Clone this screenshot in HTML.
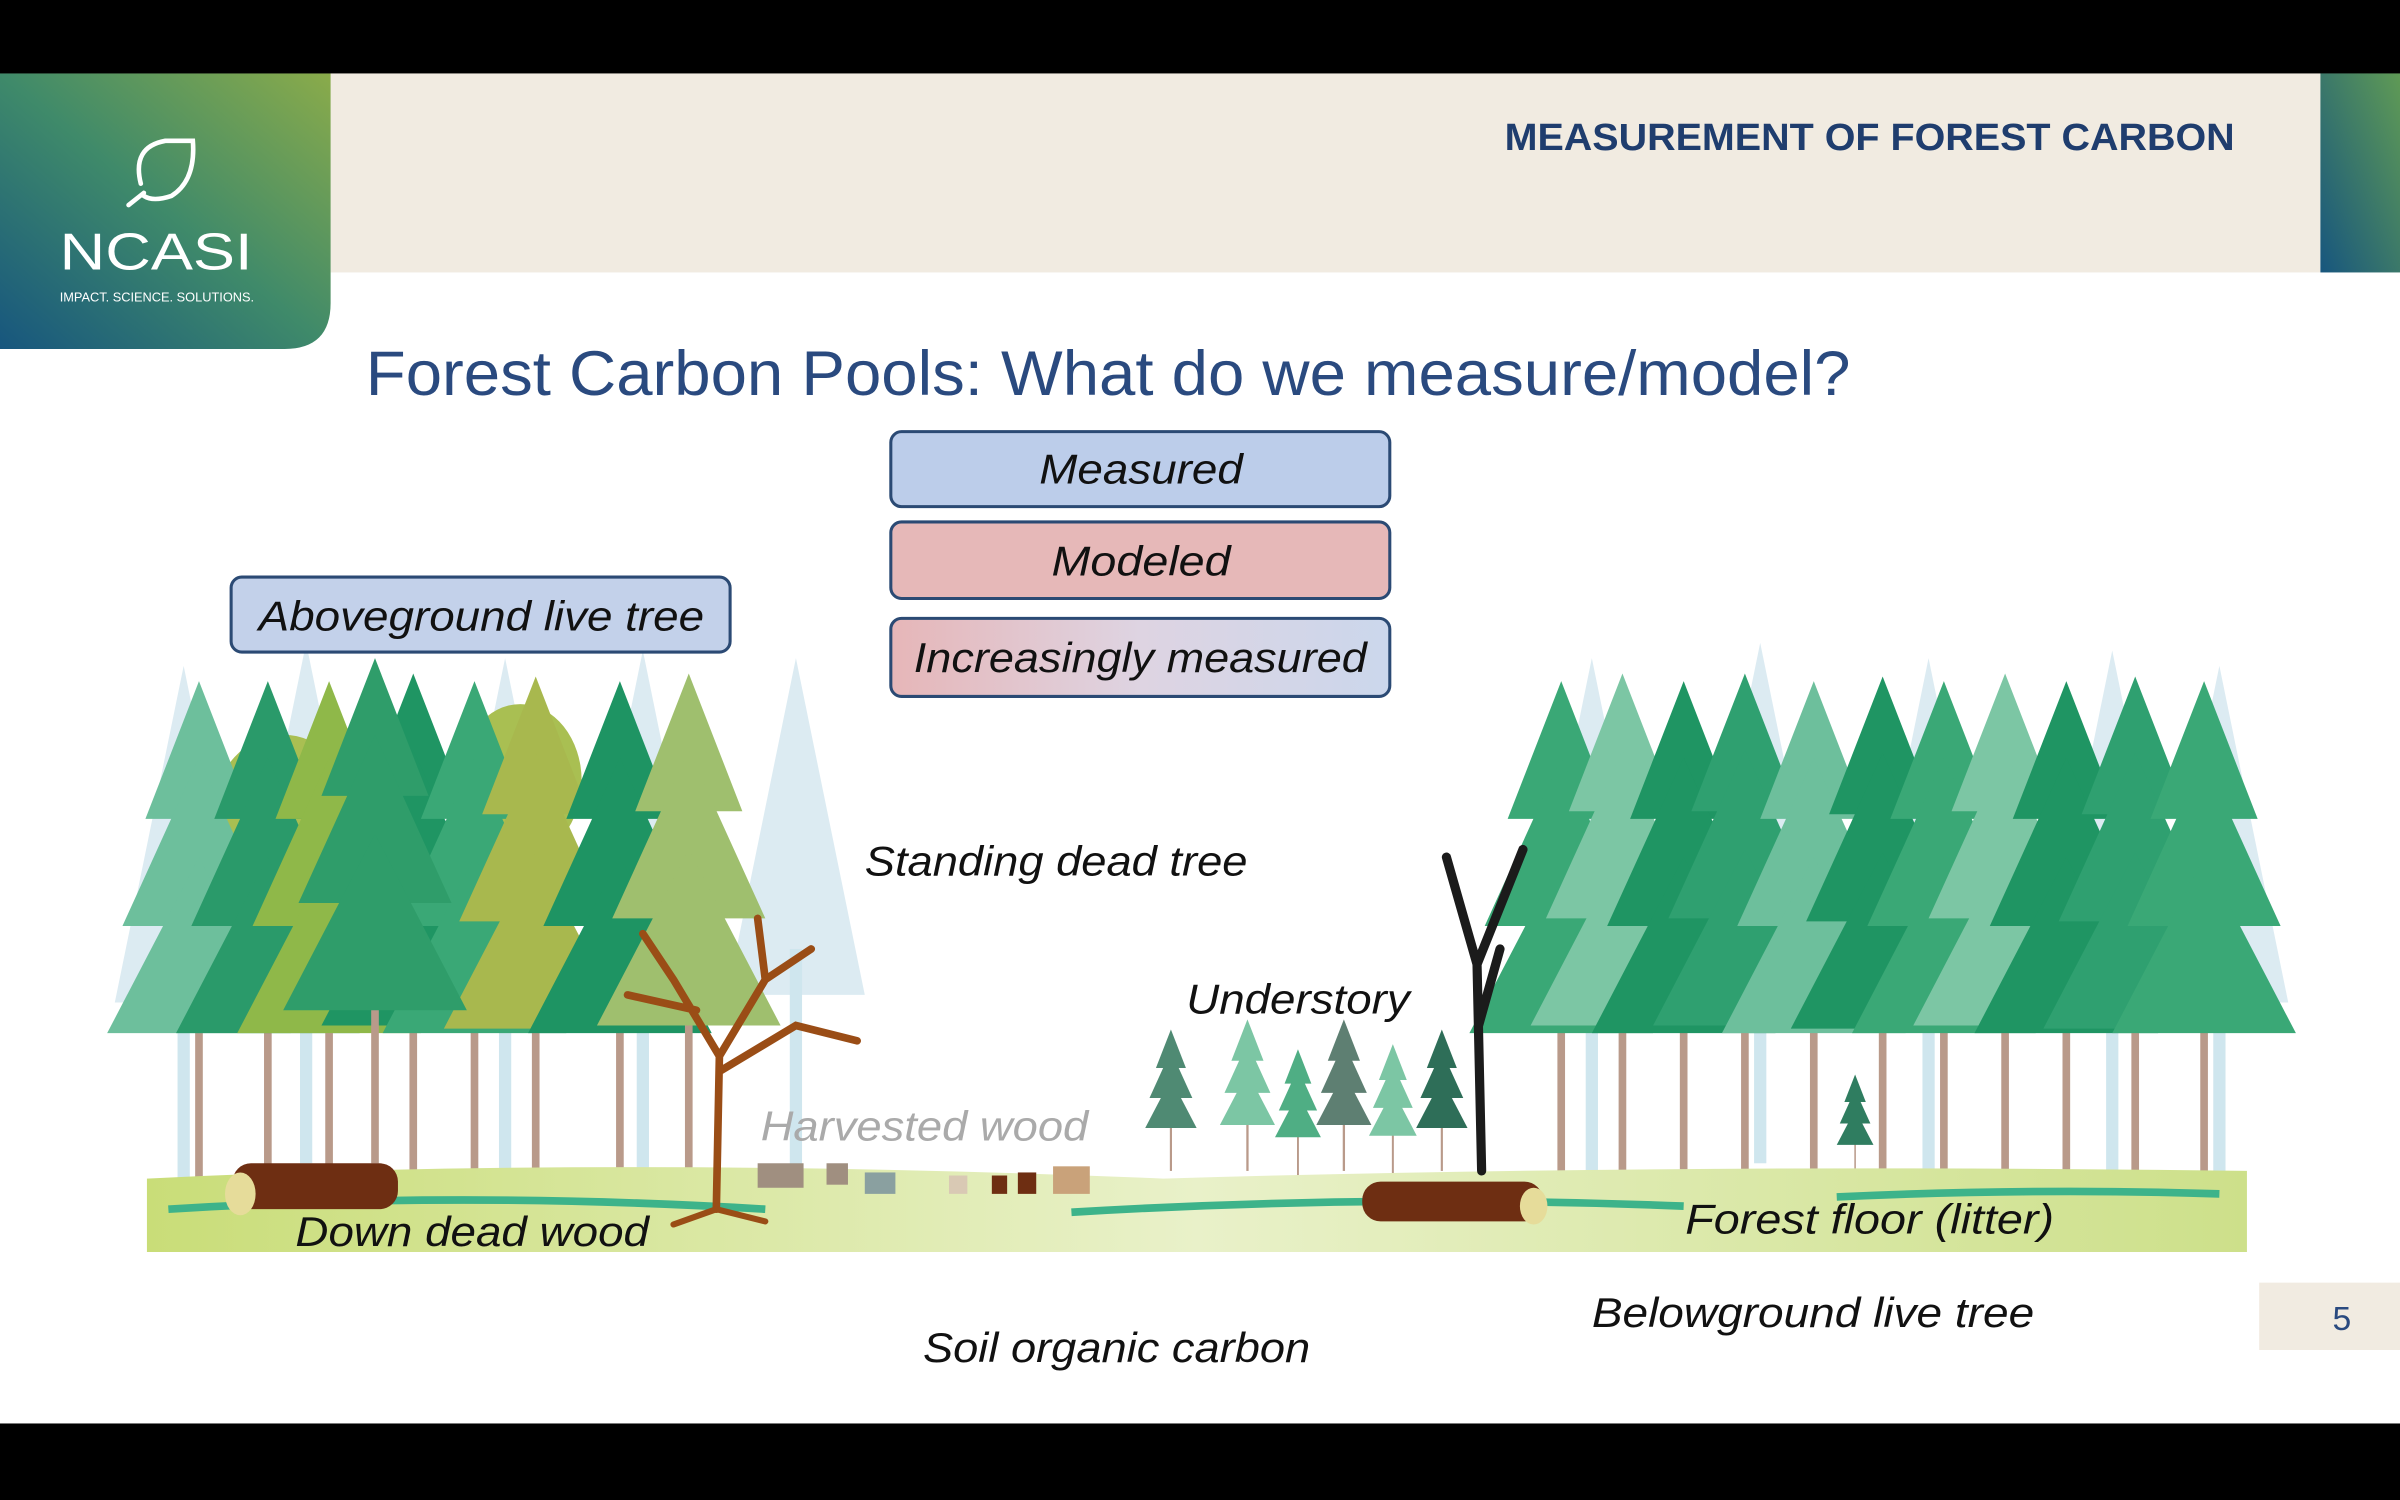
<!DOCTYPE html>
<html><head><meta charset="utf-8"><style>
html,body{margin:0;padding:0;background:#fff}
svg{display:block}
</style></head><body>
<svg width="2400" height="1500" viewBox="0 0 1568 980" preserveAspectRatio="none" xmlns="http://www.w3.org/2000/svg" font-family="Liberation Sans, sans-serif">
<defs>
<linearGradient id="lg" x1="0" y1="1" x2="1" y2="0">
<stop offset="0" stop-color="#17567e"/><stop offset="0.5" stop-color="#3f8a6a"/><stop offset="1" stop-color="#8aab4a"/></linearGradient>
<linearGradient id="rg" x1="0" y1="1" x2="1" y2="0">
<stop offset="0" stop-color="#17567e"/><stop offset="1" stop-color="#5f9a55"/></linearGradient>
<linearGradient id="inc" x1="0" y1="0" x2="1" y2="0">
<stop offset="0" stop-color="#e6b6b8"/><stop offset="0.5" stop-color="#ded4e2"/><stop offset="1" stop-color="#cbd7ec"/></linearGradient>
<linearGradient id="gr" x1="0" y1="0" x2="1" y2="0">
<stop offset="0" stop-color="#c9dd78"/><stop offset="0.5" stop-color="#e9f1c9"/><stop offset="1" stop-color="#cde08a"/></linearGradient>
<symbol id="pine" overflow="visible">
<rect x="-2.5" y="-300" width="5" height="300" fill="#b99a8a"/>
<polygon points="0,-330 -35,-240 35,-240"/>
<polygon points="0,-280 -50,-170 50,-170"/>
<polygon points="0,-215 -60,-100 60,-100"/>
</symbol>
<symbol id="bg" overflow="visible">
<polygon points="0,-340 -45,-120 45,-120" fill="#dcebf2"/>
<rect x="-4" y="-150" width="8" height="150" fill="#cfe6ee"/>
</symbol>
</defs>
<rect width="1568" height="980" fill="#fff"/>
<rect x="0" y="0" width="1568" height="48" fill="#000"/>
<rect x="0" y="930" width="1568" height="50" fill="#000"/>
<rect x="216" y="48" width="1300" height="130" fill="#f1ebe1"/>
<rect x="1516" y="48" width="52" height="130" fill="url(#rg)"/>
<path d="M0,48 H216 V198 Q216,228 186,228 H0 Z" fill="url(#lg)"/>
<path d="M92,120 Q86,96 108,92 L126,92 Q128,118 112,128 Q100,132 94,128 M94,126 L84,134" fill="none" stroke="#fff" stroke-width="3" stroke-linecap="round"/>
<text x="39" y="176" fill="#fff" font-size="34" textLength="126" lengthAdjust="spacingAndGlyphs">NCASI</text>
<text x="39" y="197" fill="#fff" font-size="8.5" textLength="127" lengthAdjust="spacingAndGlyphs">IMPACT. SCIENCE. SOLUTIONS.</text>
<text x="983" y="98" fill="#1f3d6e" font-size="25" font-weight="bold" textLength="477" lengthAdjust="spacingAndGlyphs">MEASUREMENT OF FOREST CARBON</text>
<text x="239" y="258" fill="#2a4a7f" font-size="41" textLength="970" lengthAdjust="spacingAndGlyphs">Forest Carbon Pools: What do we measure/model?</text>

<rect x="96" y="460" width="1372" height="358" fill="#fff"/>
<g>
<use href="#bg" x="120" y="775"/><use href="#bg" x="200" y="760"/><use href="#bg" x="330" y="770"/><use href="#bg" x="420" y="765"/><use href="#bg" x="520" y="770"/>
<use href="#bg" x="1040" y="770"/><use href="#bg" x="1150" y="760"/><use href="#bg" x="1260" y="770"/><use href="#bg" x="1380" y="765"/><use href="#bg" x="1450" y="775"/>
</g>
<g fill="#a9bf52"><ellipse cx="185" cy="530" rx="45" ry="50"/><ellipse cx="340" cy="510" rx="40" ry="50"/><ellipse cx="230" cy="600" rx="40" ry="45"/></g>
<g fill="#2f9d6a"><use href="#pine" x="130" y="775" fill="#6dbf9c"/><use href="#pine" x="175" y="775" fill="#2a9a6a"/><use href="#pine" x="215" y="775" fill="#8fb849"/><use href="#pine" x="270" y="770" fill="#1f9563"/><use href="#pine" x="310" y="775" fill="#3aa876"/><use href="#pine" x="350" y="772" fill="#a8b84e"/><use href="#pine" x="405" y="775" fill="#1e9463"/><use href="#pine" x="450" y="770" fill="#9fbf6e"/><use href="#pine" x="245" y="760" fill="#2f9d6a"/></g>
<g fill="#2f9d6a"><use href="#pine" x="1020" y="775" fill="#3aa876"/><use href="#pine" x="1060" y="770" fill="#7cc6a4"/><use href="#pine" x="1100" y="775" fill="#1f9563"/><use href="#pine" x="1140" y="770" fill="#2fa070"/><use href="#pine" x="1185" y="775" fill="#6dbf9c"/><use href="#pine" x="1230" y="772" fill="#1f9563"/><use href="#pine" x="1270" y="775" fill="#3aa876"/><use href="#pine" x="1310" y="770" fill="#7cc6a4"/><use href="#pine" x="1350" y="775" fill="#1f9563"/><use href="#pine" x="1395" y="772" fill="#2fa070"/><use href="#pine" x="1440" y="775" fill="#3aa876"/></g>
<g fill="#3b7a68"><use href="#pine" transform="translate(765 765) scale(0.28)" fill="#4f8a73"/><use href="#pine" transform="translate(815 765) scale(0.3)" fill="#7cc6a4"/><use href="#pine" transform="translate(848 768) scale(0.25)" fill="#4fae84"/><use href="#pine" transform="translate(878 765) scale(0.3)" fill="#5e7f72"/><use href="#pine" transform="translate(910 768) scale(0.26)" fill="#7cc6a4"/><use href="#pine" transform="translate(942 765) scale(0.28)" fill="#2e6e58"/><use href="#pine" transform="translate(1212 768) scale(0.2)" fill="#2f7d60"/></g>
<path d="M96,770 Q400,755 760,770 Q1100,760 1468,765 V818 H96 Z" fill="url(#gr)"/>
<path d="M110,790 Q300,778 500,790 M700,792 Q900,780 1100,788 M1200,782 Q1330,776 1450,780" stroke="#3db38a" stroke-width="5" fill="none"/>
<g stroke="#9a4d16" fill="none" stroke-linecap="round">
<path d="M468,790 L470,690 L440,640 M470,690 L500,640 L495,600 M470,700 L520,670 L560,680 M455,660 L410,650 M500,640 L530,620 M440,640 L420,610" stroke-width="5"/>
<path d="M468,790 L440,800 M468,790 L500,798" stroke-width="4"/>
</g>
<g stroke="#1b1b1b" fill="none" stroke-linecap="round"><path d="M968,765 L965,630 L945,560 M965,630 L985,580 L995,555 M966,670 L980,620" stroke-width="6"/></g>
<rect x="152" y="760" width="108" height="30" rx="12" fill="#6e2e12"/><ellipse cx="157" cy="780" rx="10" ry="14" fill="#e6dc9a"/>
<rect x="890" y="772" width="118" height="26" rx="12" fill="#6e2e12"/><ellipse cx="1002" cy="788" rx="9" ry="12" fill="#e6dc9a"/>
<g fill="#a08f80"><rect x="495" y="760" width="30" height="16"/><rect x="540" y="760" width="14" height="14"/><rect x="565" y="766" width="20" height="14" fill="#8aa0a0"/><rect x="620" y="768" width="12" height="12" fill="#d9c9b4"/><rect x="648" y="768" width="10" height="12" fill="#6e2e12"/><rect x="665" y="766" width="12" height="14" fill="#6e2e12"/><rect x="688" y="762" width="24" height="18" fill="#c9a27a"/></g>

<g font-style="italic" font-size="27" fill="#111" lengthAdjust="spacingAndGlyphs">
<rect x="151" y="377" width="326" height="49" rx="7" fill="#c3d1ea" stroke="#2b4a74" stroke-width="2"/>
<text x="169" y="412" textLength="291" lengthAdjust="spacingAndGlyphs">Aboveground live tree</text>
<rect x="582" y="282" width="326" height="49" rx="7" fill="#bccdea" stroke="#2b4a74" stroke-width="2"/>
<text x="679" y="316" textLength="133" lengthAdjust="spacingAndGlyphs">Measured</text>
<rect x="582" y="341" width="326" height="50" rx="7" fill="#e6b8b8" stroke="#2b4a74" stroke-width="2"/>
<text x="687" y="376" textLength="117" lengthAdjust="spacingAndGlyphs">Modeled</text>
<rect x="582" y="404" width="326" height="51" rx="7" fill="url(#inc)" stroke="#2b4a74" stroke-width="2"/>
<text x="597" y="439" textLength="296" lengthAdjust="spacingAndGlyphs">Increasingly measured</text>
<text x="565" y="572" textLength="250" lengthAdjust="spacingAndGlyphs">Standing dead tree</text>
<text x="775" y="662" textLength="146" lengthAdjust="spacingAndGlyphs">Understory</text>
<text x="497" y="745" fill="#aaa" textLength="214" lengthAdjust="spacingAndGlyphs">Harvested wood</text>
<text x="193" y="814" textLength="231" lengthAdjust="spacingAndGlyphs">Down dead wood</text>
<text x="1101" y="806" textLength="241" lengthAdjust="spacingAndGlyphs">Forest floor (litter)</text>
<text x="1040" y="867" textLength="289" lengthAdjust="spacingAndGlyphs">Belowground live tree</text>
<text x="603" y="890" textLength="253" lengthAdjust="spacingAndGlyphs">Soil organic carbon</text>
</g>
<rect x="1476" y="838" width="92" height="44" fill="#f1ebe1"/>
<text x="1530" y="869" text-anchor="middle" font-size="22" fill="#2a4a7f">5</text>
</svg>
</body></html>
